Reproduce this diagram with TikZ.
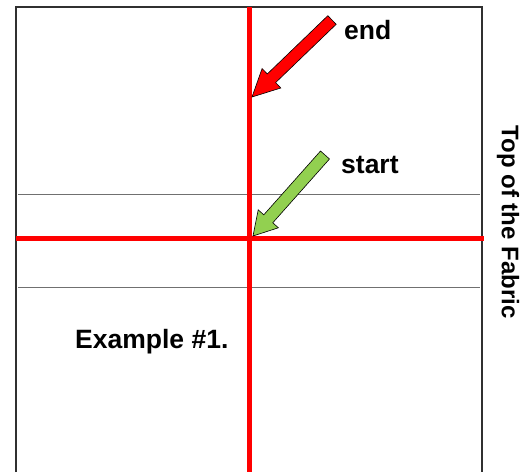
\documentclass[tikz,border=0pt]{standalone}
\usepackage{fontspec}
\setmainfont{Liberation Sans}
\usetikzlibrary{calc}
\definecolor{arrowgreen}{HTML}{92D050}
\definecolor{framegray}{HTML}{303030}
\definecolor{guidegray}{HTML}{707070}
\tikzset{
  frameline/.style={draw=framegray, line width=1.2pt},
  guideline/.style={draw=guidegray, line width=1pt},
  redline/.style={draw=red, line width=5pt},
  blockarrow/.style={draw=black, line width=0.6pt, line join=miter},
  lbl/.style={font=\bfseries\fontsize{26.5}{31}\selectfont, inner sep=0pt, anchor=base west},
}
\begin{document}
\begin{tikzpicture}[x=1pt, y=-1pt]
\useasboundingbox (0,0) rectangle (530,472);
% frame
\coordinate (fbl) at (16,472);
\coordinate (ftl) at (16,7);
\coordinate (ftr) at (482,7);
\coordinate (fbr) at (482,472);
\draw[frameline] (fbl) -- (ftl) -- (ftr) -- (fbr);
% guide lines
\coordinate (g1l) at (18,194);
\coordinate (g1r) at (480,194);
\coordinate (g2l) at (18,287);
\coordinate (g2r) at (480,287);
\draw[guideline] (g1l) -- (g1r);
\draw[guideline] (g2l) -- (g2r);
% red cross lines
\coordinate (vt) at (249.5,7);
\coordinate (vb) at (249.5,472);
\coordinate (hl) at (16,238.5);
\coordinate (hr) at (484,238.5);
\draw[redline] (vt) -- (vb);
\draw[redline] (hl) -- (hr);
% red arrow (end)
\coordinate (rP) at (252,97);
\coordinate (rT) at (332,20);
\coordinate (rH) at ($(rP)!27pt!(rT)$);
\fill[red, blockarrow] (rP)
  -- ($(rH)!13.5pt!90:(rP)$) -- ($(rH)!6pt!90:(rP)$)
  -- ($(rT)!6pt!90:(rP)$) -- ($(rT)!6pt!-90:(rP)$)
  -- ($(rH)!6pt!-90:(rP)$) -- ($(rH)!13.5pt!-90:(rP)$) -- cycle;
% green arrow (start)
\coordinate (gP) at (253,236);
\coordinate (gT) at (325,155);
\coordinate (gH) at ($(gP)!23pt!(gT)$);
\fill[arrowgreen, blockarrow] (gP)
  -- ($(gH)!13.5pt!90:(gP)$) -- ($(gH)!6pt!90:(gP)$)
  -- ($(gT)!6pt!90:(gP)$) -- ($(gT)!6pt!-90:(gP)$)
  -- ($(gH)!6pt!-90:(gP)$) -- ($(gH)!13.5pt!-90:(gP)$) -- cycle;
% labels
\node[lbl] (endlbl) at (344,39) {end};
\node[lbl] (startlbl) at (341,173) {start};
\node[lbl] (example) at (75,348) {Example \#1.};
\node[font=\bfseries\fontsize{24}{28}\selectfont, inner sep=0pt, rotate=-90] (top) at (508,222) {Top of the Fabric};
\end{tikzpicture}
\end{document}
